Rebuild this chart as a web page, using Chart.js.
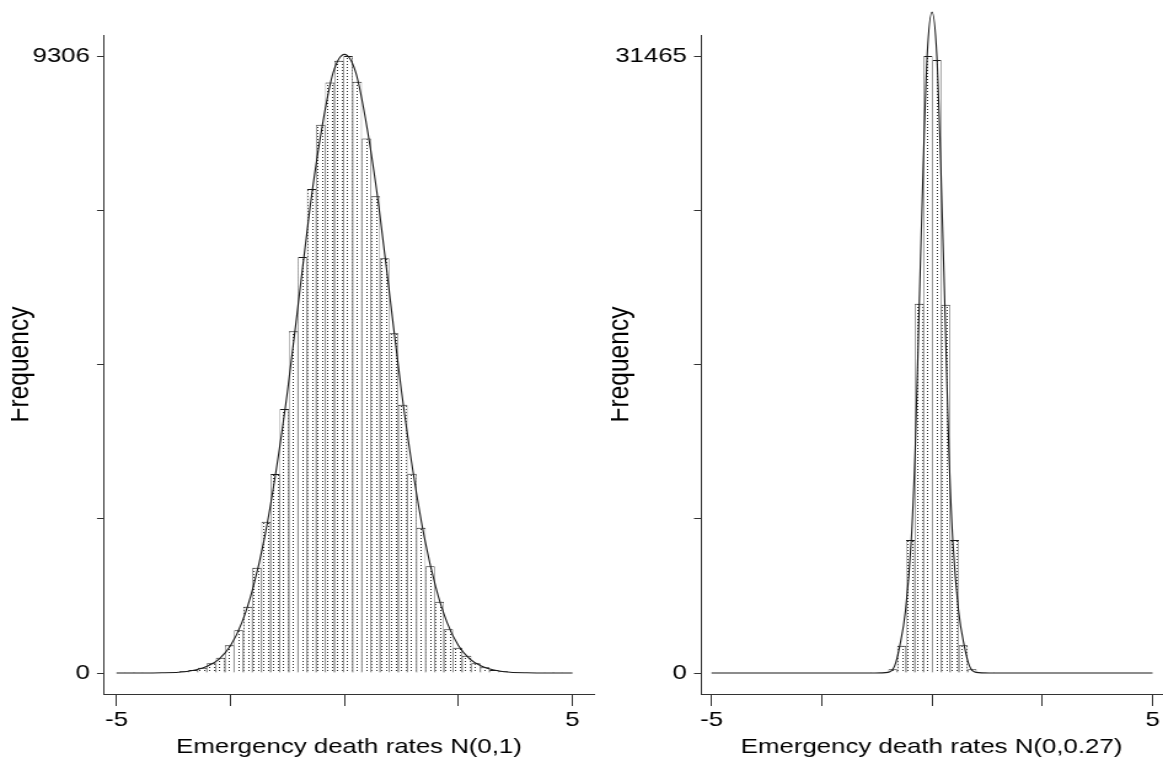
<!DOCTYPE html>
<html>
<head>
<meta charset="utf-8">
<script src="https://cdn.jsdelivr.net/npm/chart.js@4.4.0/dist/chart.umd.min.js"></script>
<style>
  html, body { margin: 0; padding: 0; background: #fff; }
  body { width: 1163px; height: 760px; position: relative; overflow: hidden; }
  canvas { position: absolute; top: 0; }
  #leftHist { left: 11px; }
  #rightHist { left: 611px; }
</style>
</head>
<body>
<!-- canvases are drawn narrow and widened by css, giving the wide lettering of the original export -->
<canvas id="leftHist" width="479" height="760" style="width:589px;height:760px"></canvas>
<canvas id="rightHist" width="449" height="760" style="width:552px;height:760px"></canvas>
<script>
// ---- N(0,1) panel ----
const leftBinCenters = [-4.72, -4.52, -4.32, -4.12, -3.92, -3.72, -3.52, -3.32, -3.12, -2.92,
  -2.72, -2.52, -2.32, -2.12, -1.92, -1.72, -1.52, -1.32, -1.12, -0.92, -0.72, -0.52, -0.32,
  -0.12, 0.08, 0.28, 0.48, 0.68, 0.88, 1.08, 1.28, 1.48, 1.68, 1.88, 2.08, 2.28, 2.48, 2.68,
  2.88, 3.08, 3.28, 3.48, 3.68, 3.88, 4.08, 4.28, 4.48, 4.68];
const leftCounts = [1, 1, 2, 3, 6, 12, 25, 45, 80, 146, 231, 418, 644, 1000, 1588, 2282, 3001,
  3981, 5153, 6274, 7299, 8269, 8908, 9235, 9306, 8917, 8063, 7189, 6254, 5123, 4047, 3006,
  2191, 1609, 1075, 659, 382, 261, 146, 85, 45, 25, 12, 6, 3, 2, 1, 1];
const leftCurveX = [-5, -4.5, -4, -3.5, -3.25, -3, -2.75, -2.5, -2.25, -2, -1.75, -1.5, -1.25,
  -1, -0.75, -0.5, -0.25, 0, 0.25, 0.5, 0.75, 1, 1.25, 1.5, 1.75, 2, 2.25, 2.5, 2.75, 3, 3.25,
  3.5, 4, 4.5, 5];
const leftCurveY = [0, 0, 3, 20, 48, 105, 210, 410, 760, 1300, 2050, 3050, 4250, 5650, 7050,
  8200, 9050, 9330, 9050, 8200, 7050, 5650, 4250, 3050, 2050, 1300, 760, 410, 210, 105, 48,
  20, 3, 0, 0];
const leftYTicks = [0, 2326.5, 4653, 6979.5, 9306];
const leftYLabels = ['0', '', '', '', '9306'];

// ---- N(0,0.27) panel ----
const rightBinCenters = [-1.29, -1.09, -0.89, -0.69, -0.49, -0.29, -0.09, 0.11, 0.31, 0.51,
  0.71, 0.91, 1.11, 1.31];
const rightCounts = [1, 12, 189, 1392, 6783, 18833, 31465, 31261, 18782, 6783, 1413, 189, 12, 1];
const rightCurveX = [-5, -1.3, -1.0, -0.85, -0.73, -0.6, -0.47, -0.38, -0.29, -0.2, -0.11, 0,
  0.11, 0.2, 0.29, 0.38, 0.47, 0.6, 0.73, 0.85, 1.0, 1.3, 5];
const rightCurveY = [0, 0, 30, 350, 1400, 3200, 6800, 11500, 18800, 25800, 31465, 33700,
  31465, 25800, 18800, 11500, 6800, 3200, 1400, 350, 30, 0, 0];
const rightYTicks = [0, 7866.25, 15732.5, 23598.75, 31465];
const rightYLabels = ['0', '', '', '', '31465'];

// shared x axis
const xTicks = [-5, -2.5, 0, 2.5, 5];
const xLabels = ['-5', '', '', '', '5'];

Chart.defaults.font.family = "'Liberation Sans', Arial, sans-serif";
Chart.defaults.color = '#000';

const INK = '#1a1a1a';

// white tile with one dark dot: the stippled bar fill
function dotPattern() {
    const tile = document.createElement('canvas');
    tile.width = 4;
    tile.height = 3;
    const g = tile.getContext('2d');
    g.fillStyle = '#fff';
    g.fillRect(0, 0, 4, 3);
    g.fillStyle = '#2a2a2a';
    g.fillRect(1, 1, 1, 1);
    return g.createPattern(tile, 'repeat');
}

function toPoints(xs, ys) {
    return xs.map((x, i) => ({ x: x, y: ys[i] }));
}

/**
 * Histogram with an overlaid density curve
 */
function drawHistogram(canvasId, p) {
    const ctx = document.getElementById(canvasId);
    const textFont = { size: 21 };

    return new Chart(ctx, {
        type: 'bar',
        data: {
            datasets: [
                {
                    type: 'line',
                    data: toPoints(p.curveX, p.curveY),
                    borderColor: INK,
                    borderWidth: 1.1,
                    pointRadius: 0,
                    cubicInterpolationMode: 'monotone',
                    clip: false,
                    order: 0
                },
                {
                    type: 'bar',
                    data: toPoints(p.centers, p.counts),
                    backgroundColor: dotPattern(),
                    borderColor: INK,
                    borderWidth: { top: 1, left: 0.6, right: 0.6, bottom: 0 },
                    borderSkipped: 'start',
                    inflateAmount: 0,
                    barPercentage: 1,
                    categoryPercentage: 1,
                    order: 1
                }
            ]
        },
        options: {
            responsive: false,
            animation: false,
            devicePixelRatio: 1,
            layout: {
                padding: { top: 35, right: p.padRight, left: 0, bottom: 0 }
            },
            plugins: {
                legend: { display: false },
                tooltip: { enabled: false }
            },
            scales: {
                x: {
                    type: 'linear',
                    offset: false,
                    min: p.xMin,
                    max: p.xMax,
                    afterBuildTicks: s => { s.ticks = xTicks.map(v => ({ value: v })); },
                    afterFit: s => { s.height = 66; },
                    ticks: {
                        callback: (v, i) => xLabels[i],
                        font: textFont,
                        padding: 2,
                        maxRotation: 0,
                        autoSkip: false
                    },
                    grid: {
                        offset: false,
                        drawOnChartArea: false,
                        drawTicks: true,
                        tickLength: 12,
                        color: '#333'
                    },
                    border: { display: true, color: '#333', width: 1 },
                    title: {
                        display: true,
                        text: p.xTitle,
                        font: textFont,
                        padding: 0
                    }
                },
                y: {
                    type: 'linear',
                    min: p.yMin,
                    max: p.yMax,
                    afterBuildTicks: s => { s.ticks = p.yTicks.map(v => ({ value: v })); },
                    afterFit: s => { s.width = p.yAxisWidth; },
                    ticks: {
                        callback: (v, i) => p.yLabels[i],
                        font: textFont,
                        padding: 5.7,
                        autoSkip: false
                    },
                    grid: {
                        drawOnChartArea: false,
                        drawTicks: true,
                        tickLength: 5.7,
                        color: '#333'
                    },
                    border: { display: true, color: '#333', width: 1 },
                    // the left edge of the canvas trims the cap line of the title
                    title: {
                        display: true,
                        text: 'Frequency',
                        font: { size: 24.5 },
                        padding: { top: -7.35, bottom: 0 }
                    }
                }
            }
        }
    });
}

// y range runs from a little under zero (axis line below the baseline) to above the top tick
drawHistogram('leftHist', {
    centers: leftBinCenters,
    counts: leftCounts,
    curveX: leftCurveX,
    curveY: leftCurveY,
    yTicks: leftYTicks,
    yLabels: leftYLabels,
    xTitle: 'Emergency death rates N(0,1)',
    xMin: -5.274,
    xMax: 5.471,
    yMin: -9306 * 21 / 617,
    yMax: 9306 * 638 / 617,
    yAxisWidth: 75.6,
    padRight: 4.9
});

drawHistogram('rightHist', {
    centers: rightBinCenters,
    counts: rightCounts,
    curveX: rightCurveX,
    curveY: rightCurveY,
    yTicks: rightYTicks,
    yLabels: rightYLabels,
    xTitle: 'Emergency death rates N(0,0.27)',
    xMin: -5.238,
    xMax: 5.215,
    yMin: -31465 * 21 / 617,
    yMax: 31465 * 638 / 617,
    yAxisWidth: 73.2,
    padRight: 0.8
});
</script>
</body>
</html>
